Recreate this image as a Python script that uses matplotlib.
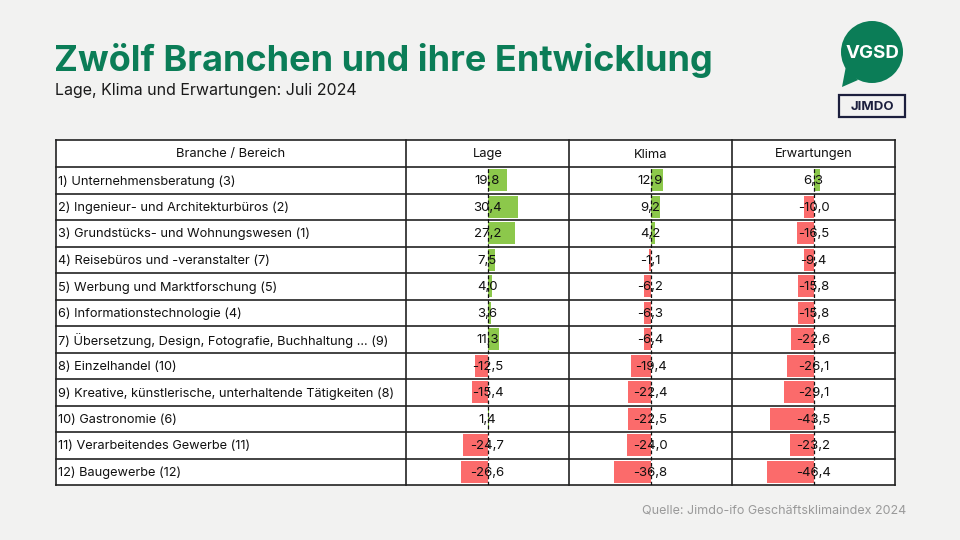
import matplotlib.pyplot as plt
from matplotlib.patches import Rectangle, Circle, Polygon

plt.rcParams['font.family'] = ['Inter', 'DejaVu Sans']

branchen = [
    "1) Unternehmensberatung (3)",
    "2) Ingenieur- und Architekturbüros (2)",
    "3) Grundstücks- und Wohnungswesen (1)",
    "4) Reisebüros und -veranstalter (7)",
    "5) Werbung und Marktforschung (5)",
    "6) Informationstechnologie (4)",
    "7) Übersetzung, Design, Fotografie, Buchhaltung ... (9)",
    "8) Einzelhandel (10)",
    "9) Kreative, künstlerische, unterhaltende Tätigkeiten (8)",
    "10) Gastronomie (6)",
    "11) Verarbeitendes Gewerbe (11)",
    "12) Baugewerbe (12)",
]
spalten = ["Lage", "Klima", "Erwartungen"]
lage = [19.8, 30.4, 27.2, 7.5, 4.0, 3.6, 11.3, -12.5, -15.4, 1.4, -24.7, -26.6]
klima = [12.9, 9.2, 4.2, -1.1, -6.2, -6.3, -6.4, -19.4, -22.4, -22.5, -24.0, -36.8]
erwartungen = [6.3, -10.0, -16.5, -9.4, -15.8, -15.8, -22.6, -26.1, -29.1, -43.5, -23.2, -46.4]

BG = "#f2f2f1"
GREEN_TITLE = "#0b7d57"
POS = "#8cc84b"
NEG = "#fb6b6b"
LINE = "#222222"
W, H = 960, 540


def fx(x):
    return x / W


def fy(y):
    return 1 - y / H


fig = plt.figure(figsize=(9.6, 5.4), dpi=100, facecolor=BG)

# title block
fig.text(fx(54), fy(60), "Zwölf Branchen und ihre Entwicklung", fontsize=26,
         fontweight="bold", color=GREEN_TITLE, va="center", ha="left")
fig.text(fx(55), fy(91), "Lage, Klima und Erwartungen: Juli 2024", fontsize=11.5,
         color="#1a1a1a", va="center", ha="left")
fig.text(fx(906), fy(510), "Quelle: Jimdo-ifo Geschäftsklimaindex 2024", fontsize=9,
         color="#9a9a9a", va="center", ha="right")

# table geometry (pixels)
left, right, top, head_bot, bottom = 56, 895, 140, 167, 485
col_edges = [56, 406, 569, 732, 895]
n = len(branchen)
row_h = (bottom - head_bot) / n

tab = fig.add_axes([0, 0, 1, 1])
tab.set_xlim(0, W)
tab.set_ylim(H, 0)
tab.axis("off")
tab.add_patch(Rectangle((left, top), right - left, bottom - top, facecolor="white",
                        edgecolor="none", zorder=0))
for xe in col_edges:
    tab.plot([xe, xe], [top, bottom], color=LINE, lw=1.2, zorder=3)
tab.plot([left, right], [top, top], color=LINE, lw=1.2, zorder=3)
tab.plot([left, right], [head_bot, head_bot], color=LINE, lw=1.2, zorder=3)
for i in range(1, n + 1):
    yy = head_bot + i * row_h
    tab.plot([left, right], [yy, yy], color=LINE, lw=1.2, zorder=3)

tab.text((col_edges[0] + col_edges[1]) / 2, (top + head_bot) / 2 + 1, "Branche / Bereich",
         fontsize=9.3, ha="center", va="center", color="#111111")
for j, name in enumerate(spalten):
    tab.text((col_edges[j + 1] + col_edges[j + 2]) / 2, (top + head_bot) / 2 + 1, name,
             fontsize=9.3, ha="center", va="center", color="#111111")
for i, b in enumerate(branchen):
    tab.text(left + 2, head_bot + (i + 0.5) * row_h + 1, b, fontsize=9.2,
             ha="left", va="center", color="#111111")

# bar columns
for j, vals in enumerate([lage, klima, erwartungen]):
    x0, x1 = col_edges[j + 1], col_edges[j + 2]
    ax = fig.add_axes([fx(x0), fy(bottom), fx(x1) - fx(x0), fy(head_bot) - fy(bottom)])
    ax.patch.set_alpha(0)
    half = (x1 - x0) / 2
    ax.set_xlim(-half, half)
    ax.set_ylim(n - 0.5, -0.5)
    ax.axis("off")
    cols = [POS if v >= 0 else NEG for v in vals]
    ax.barh(range(n), vals, height=0.84, color=cols, zorder=1)
    ax.axvline(0, color="#111111", lw=0.9, ls=(0, (3, 2)), zorder=2)
    for i, v in enumerate(vals):
        ax.text(0, i + 0.04, f"{v:.1f}".replace(".", ","), fontsize=9.5,
                ha="center", va="center", color="#111111", zorder=3)

# logos
lg = fig.add_axes([0, 0, 1, 1])
lg.set_xlim(0, W)
lg.set_ylim(H, 0)
lg.axis("off")
lg.add_patch(Circle((872, 52), 31, facecolor=GREEN_TITLE, edgecolor="none"))
lg.add_patch(Polygon([[846, 66], [858, 80], [842, 87]], closed=True,
                     facecolor=GREEN_TITLE, edgecolor="none"))
lg.text(872, 53, "VGSD", fontsize=13.5, fontweight="bold", color="white",
        ha="center", va="center")
lg.add_patch(Rectangle((839, 95), 66, 22, facecolor="none", edgecolor="#1c1f3d", lw=1.6))
lg.text(872, 106.5, "JIMDO", fontsize=9.5, fontweight="bold", color="#1c1f3d",
        ha="center", va="center")

fig.savefig("out.png", dpi=100, facecolor=BG)
